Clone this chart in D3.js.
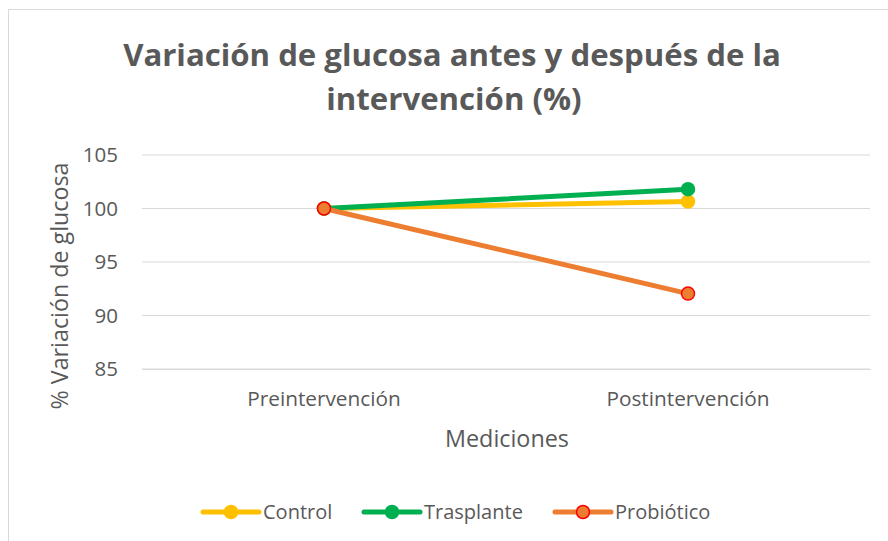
<!DOCTYPE html>
<html>
<head>
<meta charset="utf-8">
<script src="https://cdn.jsdelivr.net/npm/d3@7"></script>
<style>
  body { margin: 0; background: #fff; }
  text { font-family: "Open Sans", Lato, sans-serif; fill: #595959; }
</style>
</head>
<body>
<div id="chart"></div>
<script>
const W = 888, H = 541;

// datos
const categorias = ["Preintervención", "Postintervención"];
const series = ["Control", "Trasplante", "Probiótico"];
const control = [100, 100.65];
const trasplante = [100, 101.8];
const probiotico = [100, 92.05];
const ticksY = [85, 90, 95, 100, 105];

const colores = { "Control": "#FFC000", "Trasplante": "#00B050", "Probiótico": "#ED7D31" };
const bordes = { "Control": "#FFC000", "Trasplante": "#00B050", "Probiótico": "#FF0000" };
const valores = { "Control": control, "Trasplante": trasplante, "Probiótico": probiotico };

const svg = d3.select("#chart").append("svg")
    .attr("width", W)
    .attr("height", H);

// ajusta el tamaño de letra para ocupar un ancho dado
function ajustar(sel, ancho) {
    const fs = parseFloat(sel.style("font-size"));
    const w = sel.node().getComputedTextLength();
    sel.style("font-size", (fs * ancho / w).toFixed(2) + "px");
}

// marco del gráfico
svg.append("rect")
    .attr("x", 8.5).attr("y", 9.5)
    .attr("width", W).attr("height", H)
    .attr("fill", "#fff")
    .attr("stroke", "#d9d9d9");

const m = { left: 142, right: 870, top: 155, bottom: 369 };

const x = d3.scaleBand().domain(categorias).range([m.left, m.right]);
const y = d3.scaleLinear().domain([85, 105]).range([m.bottom, m.top]);

// título
const t1 = svg.append("text")
    .attr("x", 452).attr("y", 66).attr("text-anchor", "middle")
    .style("font-size", "28px").style("font-weight", "bold")
    .text("Variación de glucosa antes y después de la");
ajustar(t1, 658);
const t2 = svg.append("text")
    .attr("x", 454).attr("y", 110).attr("text-anchor", "middle")
    .style("font-size", t1.style("font-size")).style("font-weight", "bold")
    .text("intervención (%)");

// rejilla
svg.append("g").selectAll("line")
    .data(ticksY)
    .join("line")
    .attr("x1", m.left).attr("x2", m.right)
    .attr("y1", d => y(d)).attr("y2", d => y(d))
    .attr("stroke", "#d9d9d9").attr("stroke-width", 1);

// eje y
const ejeY = svg.append("g")
    .attr("transform", `translate(${m.left},0)`)
    .call(d3.axisLeft(y).tickValues(ticksY).tickSize(0).tickPadding(24));
ejeY.select(".domain").remove();
ejeY.selectAll("text").style("font-size", "20.5px").attr("fill", "#595959")
    .style("font-family", "'Open Sans', sans-serif");

// eje x
const ejeX = svg.append("g")
    .attr("transform", `translate(0,${m.bottom})`)
    .call(d3.axisBottom(x).tickSize(0).tickPadding(22));
ejeX.select(".domain").attr("stroke", "#d9d9d9");
ejeX.selectAll("text").style("font-size", "20.8px").attr("fill", "#595959")
    .style("font-family", "'Open Sans', sans-serif");

// títulos de ejes
const ty = svg.append("text")
    .attr("transform", "translate(68,286) rotate(-90)")
    .attr("text-anchor", "middle")
    .style("font-size", "21px")
    .text("% Variación de glucosa");
ajustar(ty, 247);

const tx = svg.append("text")
    .attr("x", 507).attr("y", 447)
    .attr("text-anchor", "middle")
    .style("font-size", "21px")
    .text("Mediciones");
ajustar(tx, 124);

// líneas
const linea = d3.line()
    .x((d, i) => x(categorias[i]) + x.bandwidth() / 2)
    .y(d => y(d));

series.forEach(s => {
    svg.append("path")
        .datum(valores[s])
        .attr("d", linea)
        .attr("fill", "none")
        .attr("stroke", colores[s])
        .attr("stroke-width", 5)
        .attr("stroke-linecap", "round");
});
series.forEach(s => {
    svg.append("g").selectAll("circle")
        .data(valores[s])
        .join("circle")
        .attr("cx", (d, i) => x(categorias[i]) + x.bandwidth() / 2)
        .attr("cy", d => y(d))
        .attr("r", 6.5)
        .attr("fill", colores[s])
        .attr("stroke", bordes[s])
        .attr("stroke-width", 1.5);
});

// leyenda
const posLeyenda = [203, 364, 555];
const leyenda = svg.append("g").selectAll("g")
    .data(series)
    .join("g")
    .attr("transform", (d, i) => `translate(${posLeyenda[i]},512)`);
leyenda.append("line")
    .attr("x1", 0).attr("x2", 56)
    .attr("stroke", d => colores[d])
    .attr("stroke-width", 5)
    .attr("stroke-linecap", "round");
leyenda.append("circle")
    .attr("cx", 28).attr("r", 6.5)
    .attr("fill", d => colores[d])
    .attr("stroke", d => bordes[d])
    .attr("stroke-width", 1.5);
leyenda.append("text")
    .attr("x", 60).attr("y", 7)
    .style("font-size", "20px")
    .text(d => d);
</script>
</body>
</html>
